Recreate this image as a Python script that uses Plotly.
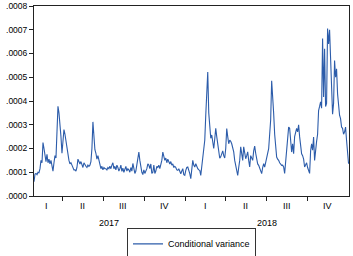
import pandas as pd
import plotly.graph_objects as go

# Conditional variance, in units of 1e-4, in time order
variance_e4 = [
    0.6, 0.92, 0.95, 0.9, 1.0, 0.98, 1.15, 1.5, 1.4, 2.25,
    2.0, 1.6, 1.45, 1.75, 1.4, 1.55, 1.35, 1.5, 1.25, 1.05,
    1.4, 1.7, 1.6, 3.0, 3.78, 3.5, 2.7, 2.5, 1.8, 2.3,
    2.8, 2.6, 2.3, 2.0, 1.8, 1.5, 1.35, 1.4, 1.3, 1.15,
    1.1, 1.1, 1.05, 1.2, 1.55, 1.45, 1.35, 1.45, 1.3, 1.2,
    1.4, 1.3, 1.25, 1.2, 1.3, 1.25, 1.3, 1.45, 2.0, 3.12,
    2.4, 1.95, 1.8, 1.55, 1.7, 1.5, 1.45, 1.15, 1.25, 1.1,
    1.2, 1.15, 1.15, 1.1, 1.2, 1.15, 1.25, 1.15, 1.3, 1.4,
    1.15, 1.25, 1.1, 1.3, 1.2, 1.05, 1.15, 1.3, 1.04, 1.17,
    1.0, 1.1, 1.25, 1.05, 1.15, 1.1, 1.0, 1.2, 1.05, 1.37,
    1.1, 0.95, 1.05, 1.3, 1.5, 1.85, 1.5, 1.2, 1.0, 0.9,
    1.1, 0.95, 1.05, 1.15, 1.35, 1.3, 1.15, 1.35, 0.95, 1.0,
    1.3, 0.95, 1.05, 1.25, 1.2, 1.3, 1.15, 1.3, 1.5, 1.85,
    1.65, 1.5, 1.6, 1.4, 1.55, 1.45, 1.35, 1.45, 1.3, 1.35,
    1.2, 1.25, 1.2, 1.1, 1.08, 1.15, 1.0, 0.94, 1.05, 1.15,
    0.9, 0.87, 1.08, 1.2, 1.22, 1.0, 0.94, 0.73, 1.1, 1.5,
    1.3, 1.22, 1.36, 1.2, 1.15, 1.1, 1.08, 0.87, 1.2, 1.5,
    2.0, 2.35, 3.4, 4.6, 5.22, 3.5, 2.8, 2.43, 2.57, 2.3,
    2.0, 2.4, 2.85, 2.5, 2.2, 1.8, 1.59, 1.65, 1.75, 1.9,
    1.7, 1.6, 2.0, 2.84, 2.5, 2.2, 2.35, 2.3, 2.2, 2.0,
    1.86, 1.5, 1.22, 1.0, 0.87, 1.2, 1.5, 2.07, 1.8, 1.5,
    2.07, 1.8, 1.57, 1.7, 1.86, 1.5, 1.22, 1.7, 1.55, 1.5,
    1.9, 2.1, 1.8, 1.5, 1.35, 1.29, 1.15, 1.05, 0.94, 1.2,
    1.36, 1.22, 1.4, 1.7, 1.85, 1.99, 2.6, 3.2, 4.85, 4.3,
    3.48, 2.6, 2.0, 1.64, 1.55, 1.5, 1.4, 1.36, 1.29, 1.3,
    1.22, 0.95, 1.4, 2.07, 2.6, 2.9, 2.85, 2.3, 1.85, 2.2,
    1.78, 2.5, 2.75, 2.85, 2.7, 3.0, 2.5, 2.1, 1.78, 1.7,
    1.55, 1.22, 1.3, 1.4, 1.2, 1.05, 0.95, 1.9, 2.2, 1.93,
    2.48, 1.5, 2.07, 2.3, 2.6, 3.6, 3.77, 3.96, 3.7, 6.63,
    4.17, 6.2, 3.77, 3.9, 7.05, 6.4, 7.0, 5.5, 4.2, 3.44,
    3.9, 5.7, 5.0, 5.36, 4.3, 3.8, 3.4, 3.26, 2.9, 2.85,
    2.6, 2.7, 2.9, 2.35, 1.78, 1.36,
]
start_date = "2017-01-28"
end_date = "2018-12-31"
axis_end = "2019-01-01"

y_tick_values = [0.0, 0.0001, 0.0002, 0.0003, 0.0004, 0.0005, 0.0006, 0.0007, 0.0008]
y_tick_labels = [".0000", ".0001", ".0002", ".0003", ".0004", ".0005", ".0006", ".0007", ".0008"]

quarter_starts = ["2017-04-01", "2017-07-01", "2017-10-01", "2018-01-01",
                  "2018-04-01", "2018-07-01", "2018-10-01"]
quarter_mids = ["2017-02-25", "2017-05-16", "2017-08-15", "2017-11-15",
                "2018-02-14", "2018-05-16", "2018-08-15", "2018-11-15"]
quarter_labels = ["I", "II", "III", "IV", "I", "II", "III", "IV"]
year_mids = ["2017-07-15", "2018-07-02"]
year_labels = ["2017", "2018"]
series_name = "Conditional variance"

dates = pd.date_range(start_date, end_date, periods=len(variance_e4))
variance = [v * 1e-4 for v in variance_e4]

FONT = "Liberation Sans, Arial, sans-serif"
fig = go.Figure()
fig.add_trace(go.Scatter(x=dates, y=variance, mode="lines", name=series_name,
                         line=dict(color="#2c5caa", width=1.1)))

fig.update_layout(
    width=353, height=256,
    margin=dict(l=34, r=4, t=6, b=60, autoexpand=False),
    paper_bgcolor="white", plot_bgcolor="white",
    font=dict(family=FONT, size=9, color="black"),
    showlegend=True,
    legend=dict(orientation="h", x=0.5, xanchor="center", y=-0.252, yanchor="middle",
                bordercolor="#333", borderwidth=1, font=dict(size=9),
                itemwidth=30, tracegroupgap=0),
    xaxis=dict(type="date", range=[start_date, axis_end], tickvals=quarter_starts,
               ticktext=[" "] * len(quarter_starts), ticks="outside", ticklen=4,
               tickwidth=1, tickcolor="#222", showgrid=False, showline=True,
               linecolor="#222", linewidth=1, mirror=True, zeroline=False,
               automargin=False),
    yaxis=dict(range=[0, 0.0008], tickvals=y_tick_values, ticktext=y_tick_labels,
               ticks="outside", ticklen=4, tickcolor="#222", showgrid=False,
               showline=True, linecolor="#222", linewidth=1, mirror=True,
               zeroline=False, tickfont=dict(size=8.5), automargin=False),
)
for xm, lab in zip(quarter_mids, quarter_labels):
    fig.add_annotation(x=xm, xref="x", y=-0.055, yref="paper", text=lab,
                       showarrow=False, yanchor="middle", font=dict(size=9))
for xm, lab in zip(year_mids, year_labels):
    fig.add_annotation(x=xm, xref="x", y=-0.14, yref="paper", text=lab,
                       showarrow=False, yanchor="middle", font=dict(size=9))

fig.write_html("out.html", config={"displayModeBar": False},
               post_script="document.body.style.margin='0';document.body.style.overflow='hidden';")
